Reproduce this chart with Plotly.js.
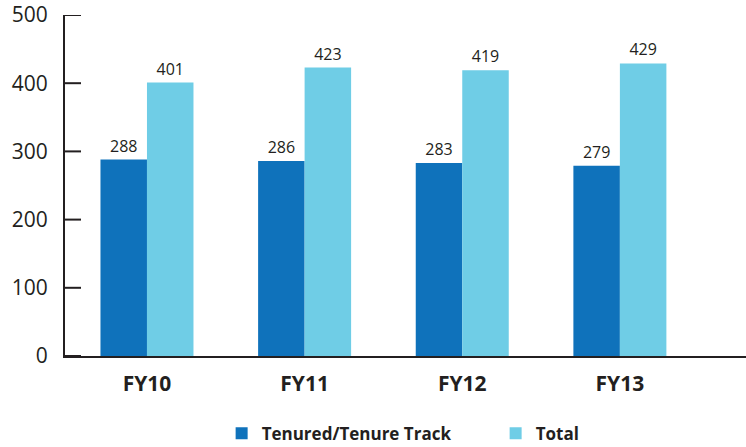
<!DOCTYPE html>
<html>
<head>
<meta charset="utf-8">
<script src="https://cdn.plot.ly/plotly-3.0.1.min.js"></script>
<style>html,body{margin:0;padding:0;background:#fff;}#chart{width:746px;height:447px;}</style>
</head>
<body>
<div id="chart"></div>
<script>
const categories = ["FY10", "FY11", "FY12", "FY13"];
const tenured = [288, 286, 283, 279];
const total = [401, 423, 419, 429];
const seriesNames = ["Tenured/Tenure Track", "Total"];
const yTicks = [0, 100, 200, 300, 400, 500];

const ink = "#231f20";
const font = "Open Sans, Liberation Sans, sans-serif";

const traces = [
  {type: "bar", x: categories, y: tenured, name: seriesNames[0],
   marker: {color: "#0f72bb"}, text: tenured.map(String), textposition: "outside",
   textfont: {family: font, size: 16, color: ink}, cliponaxis: false},
  {type: "bar", x: categories, y: total, name: seriesNames[1],
   marker: {color: "#6fcde6"}, text: total.map(String), textposition: "outside",
   textfont: {family: font, size: 16, color: ink}, cliponaxis: false}
];

// inward tick marks on the y axis (16 px long)
const tickShapes = yTicks.map(v => ({
  type: "line", xref: "paper", xsizemode: "pixel", xanchor: 0, x0: 0, x1: 16,
  yref: "y", y0: v, y1: v, line: {color: ink, width: 2}, layer: "above"
}));

const layout = {
  width: 746, height: 447,
  margin: {l: 65, r: 0, t: 15, b: 91, autoexpand: false},
  paper_bgcolor: "#fff", plot_bgcolor: "#fff",
  barmode: "group", bargap: 0.41, bargroupgap: 0,
  font: {family: font, color: ink},
  showlegend: true,
  legend: {orientation: "h", x: 0.23, xanchor: "left", y: -0.175, yanchor: "top",
           font: {family: font, size: 17, color: ink, weight: "bold"}, itemwidth: 30,
           entrywidth: 229, entrywidthmode: "pixels"},
  shapes: tickShapes,
  xaxis: {type: "category", range: [-0.52, 3.8], showline: true, linecolor: ink, linewidth: 2,
          ticks: "", showgrid: false, zeroline: false,
          tickfont: {family: font, size: 21, color: ink, weight: "bold"}, ticklabelstandoff: 8},
  yaxis: {range: [0, 500], tickvals: yTicks, ticktext: yTicks.map(String), showline: true,
          linecolor: ink, linewidth: 2, ticks: "", ticklabeloverflow: "allow",
          showgrid: false, zeroline: false,
          tickfont: {family: font, size: 21, color: ink}, ticklabelstandoff: 11}
};

Plotly.newPlot("chart", traces, layout, {displayModeBar: false, staticPlot: true});
</script>
</body>
</html>
